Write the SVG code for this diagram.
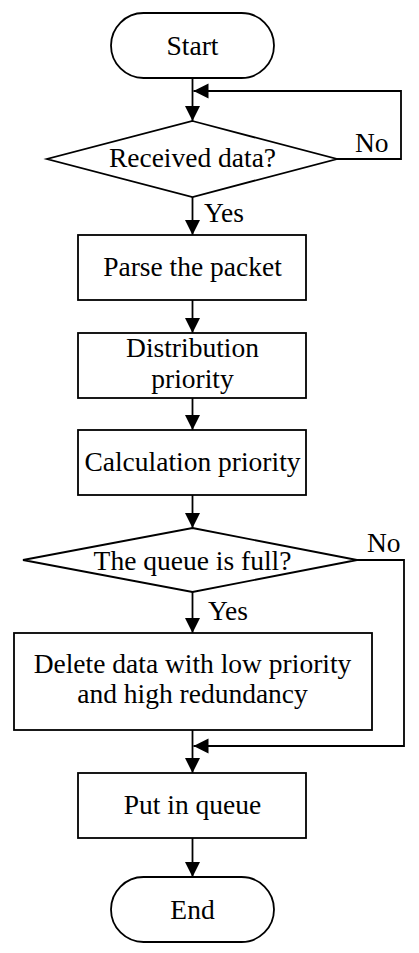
<svg xmlns="http://www.w3.org/2000/svg" width="419" height="953" viewBox="0 0 419 953">
<style>
.n{fill:#fff;stroke:#000;stroke-width:1.8}
.c{fill:none;stroke:#000;stroke-width:1.8}
text{font-family:"Liberation Serif","Times New Roman",serif;font-size:27.5px;fill:#000}
.m{text-anchor:middle}
</style>
<defs>
<marker id="a" markerUnits="userSpaceOnUse" markerWidth="16" markerHeight="16" refX="15" refY="7.5" orient="auto">
<path d="M0,0 L15,7.5 L0,15 z" fill="#000"/>
</marker>
</defs>
<rect width="419" height="953" fill="#fff"/>
<g id="connectors">
<line class="c" x1="192.5" y1="78" x2="192.5" y2="121" marker-end="url(#a)"/>
<polyline class="c" points="337,159 401,159 401,91 193.5,91" marker-end="url(#a)"/>
<line class="c" x1="192.5" y1="197" x2="192.5" y2="235" marker-end="url(#a)"/>
<line class="c" x1="192.5" y1="300" x2="192.5" y2="333" marker-end="url(#a)"/>
<line class="c" x1="192.5" y1="398" x2="192.5" y2="430" marker-end="url(#a)"/>
<line class="c" x1="192.5" y1="495" x2="192.5" y2="528" marker-end="url(#a)"/>
<line class="c" x1="192.5" y1="592" x2="192.5" y2="633" marker-end="url(#a)"/>
<polyline class="c" points="357,560 404,560 404,746 193.5,746" marker-end="url(#a)"/>
<line class="c" x1="192.5" y1="730" x2="192.5" y2="773" marker-end="url(#a)"/>
<line class="c" x1="192.5" y1="838" x2="192.5" y2="877" marker-end="url(#a)"/>
<text x="355" y="152">No</text>
<text x="204" y="222">Yes</text>
<text x="367" y="552">No</text>
<text x="208" y="620">Yes</text>
</g>
<g id="start"><rect class="n" x="111" y="13" width="163" height="65" rx="32.5"/><text class="m" x="192.5" y="55">Start</text></g>
<g id="received"><polygon class="n" points="192.5,121 337,159 192.5,197 47,159"/><text class="m" x="192.5" y="167">Received data?</text></g>
<g id="parse"><rect class="n" x="78" y="235" width="228" height="65"/><text class="m" x="192.5" y="276">Parse the packet</text></g>
<g id="distribution"><rect class="n" x="78" y="333" width="228" height="65"/><text class="m" x="192.5" y="357">Distribution</text><text class="m" x="192.5" y="388">priority</text></g>
<g id="calculation"><rect class="n" x="78" y="430" width="228" height="65"/><text class="m" x="192.5" y="471">Calculation priority</text></g>
<g id="full"><polygon class="n" points="192.5,528 357,560 192.5,592 23,560"/><text class="m" x="192.5" y="570">The queue is full?</text></g>
<g id="delete"><rect class="n" x="14" y="633" width="358" height="97"/><text class="m" x="192.5" y="673">Delete data with low priority</text><text class="m" x="192.5" y="703">and high redundancy</text></g>
<g id="put"><rect class="n" x="78" y="773" width="228" height="65"/><text class="m" x="192.5" y="814">Put in queue</text></g>
<g id="end"><rect class="n" x="111" y="877" width="163" height="65" rx="32.5"/><text class="m" x="192.5" y="919">End</text></g>
</svg>
